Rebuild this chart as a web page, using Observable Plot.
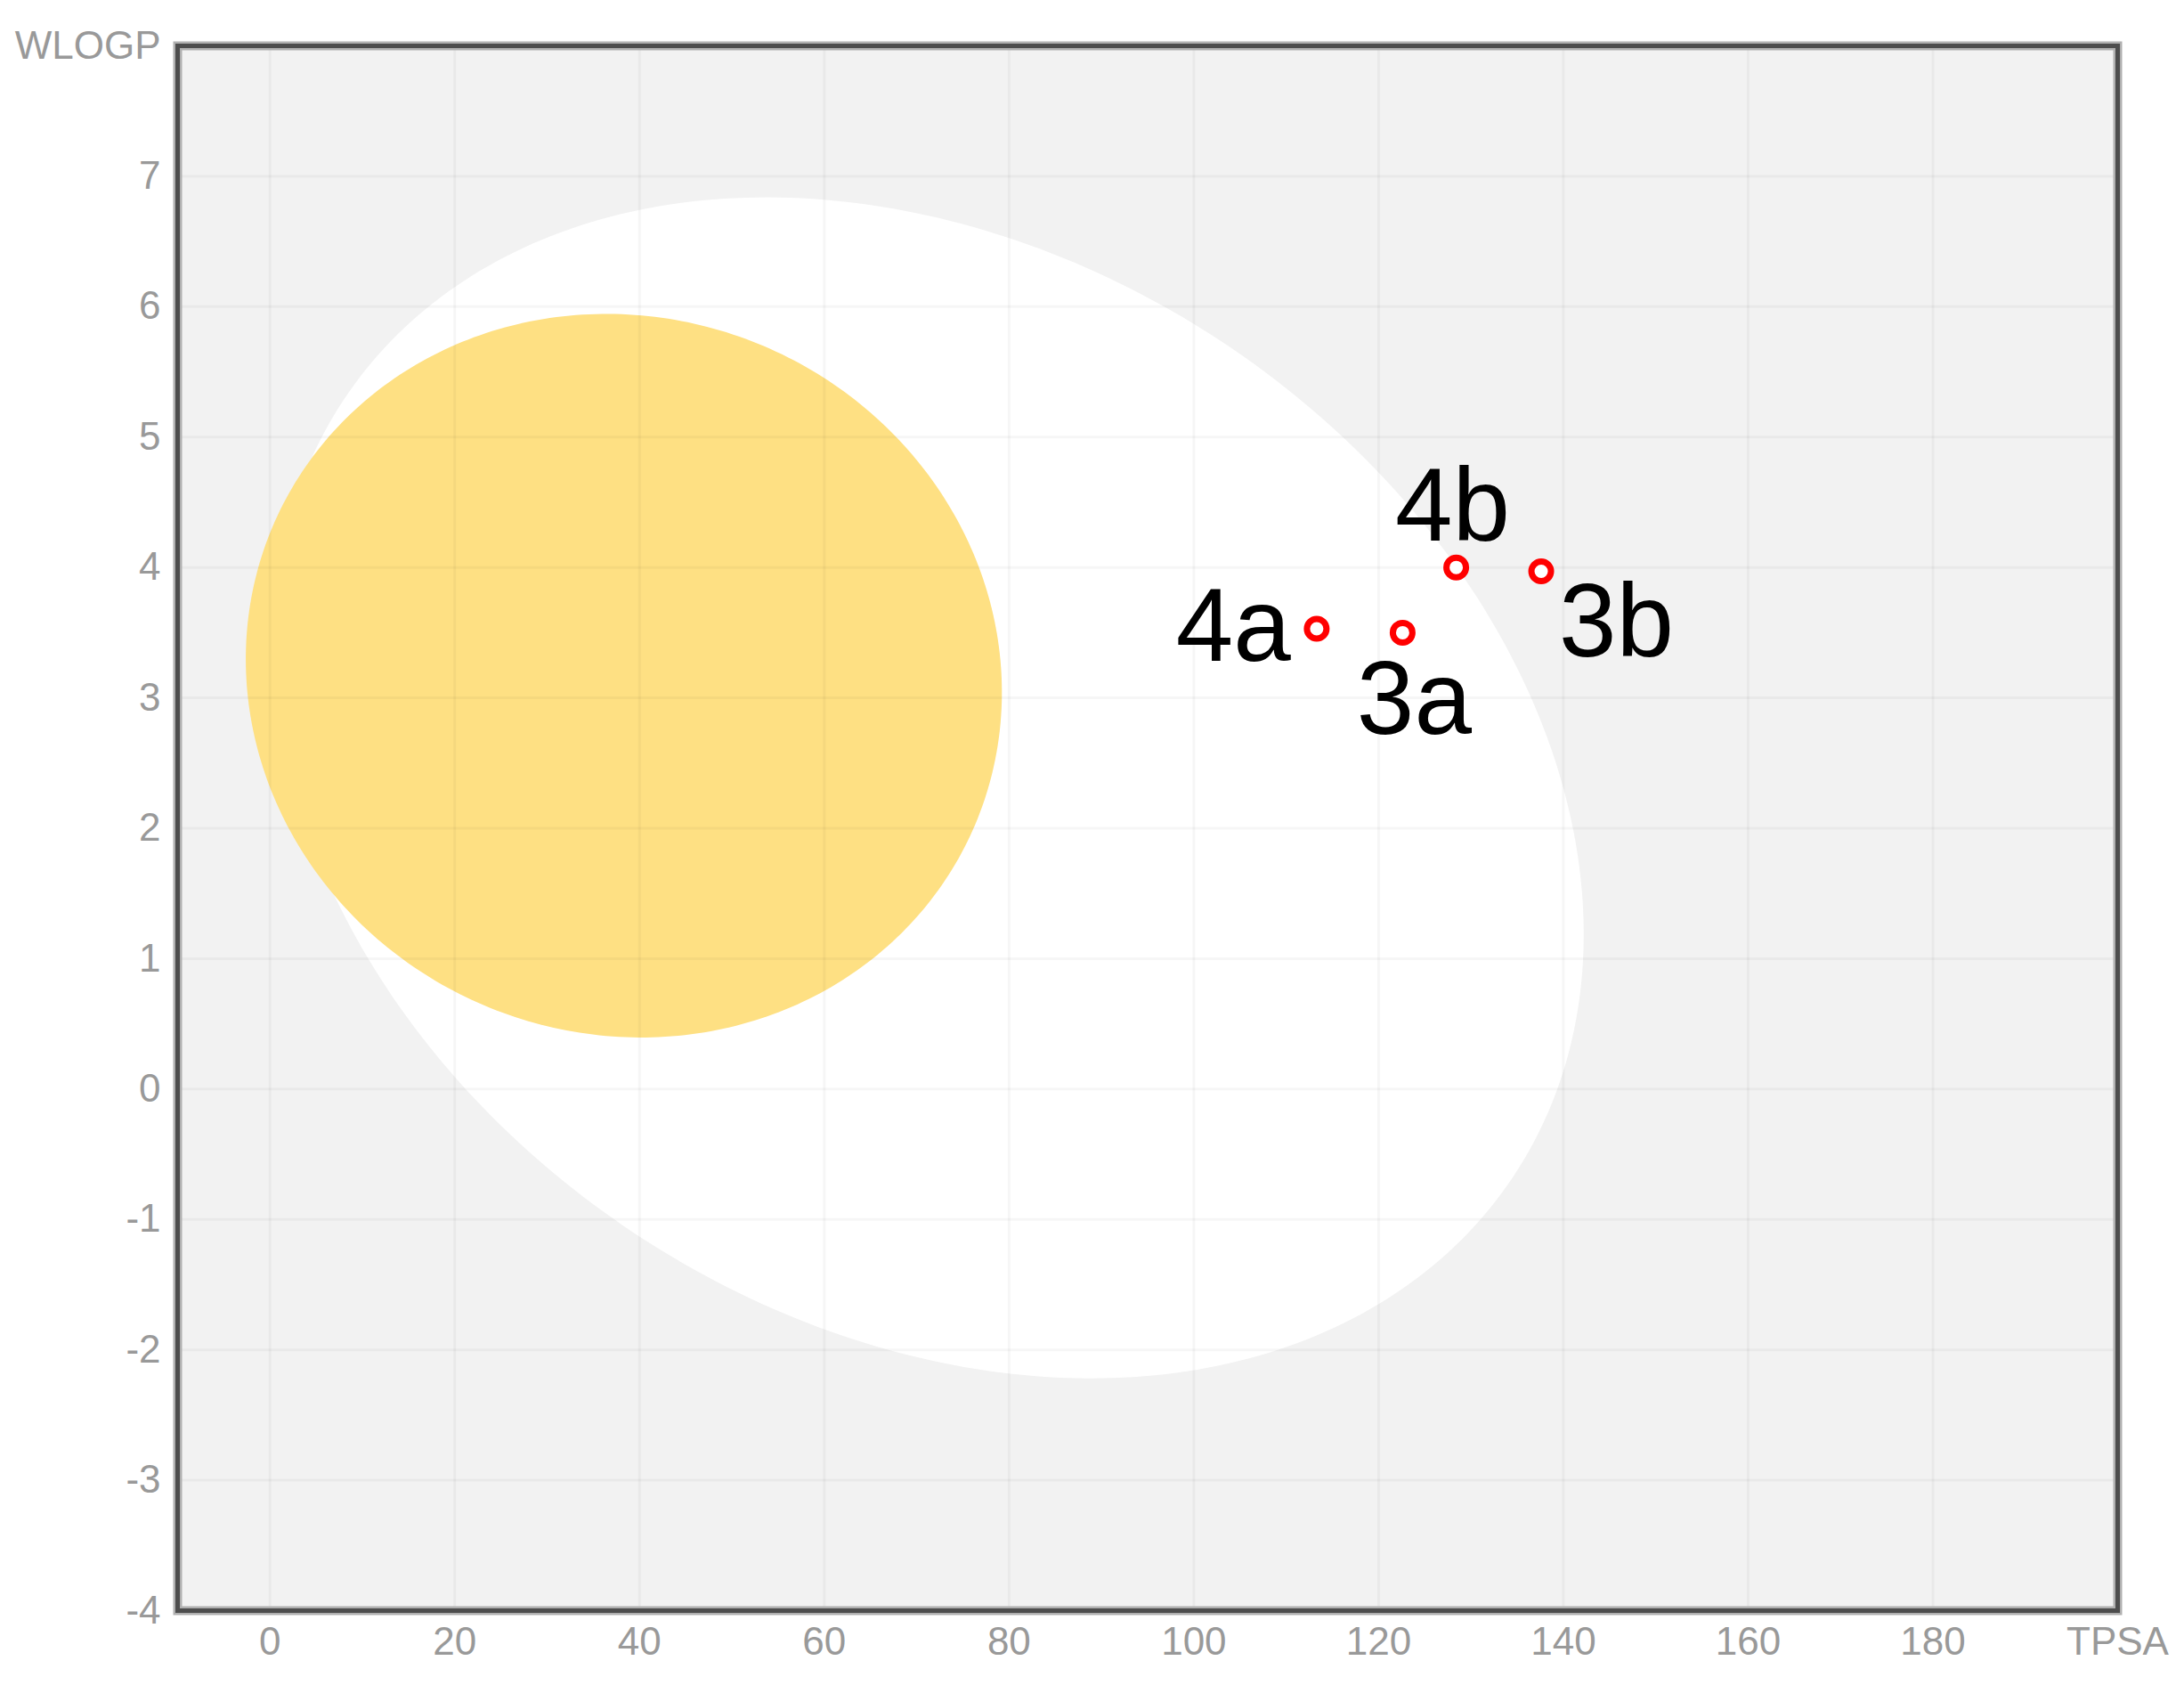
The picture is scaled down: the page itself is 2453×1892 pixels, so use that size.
<!DOCTYPE html>
<html>
<head>
<meta charset="utf-8">
<script src="https://cdn.jsdelivr.net/npm/d3@7"></script>
<script src="https://cdn.jsdelivr.net/npm/@observablehq/plot@0.6"></script>
<style>
  html, body { margin: 0; padding: 0; background: #ffffff; }
  svg { display: block; }
</style>
</head>
<body>
<div id="chart"></div>
<script>
// ---------------- data ----------------
const compounds = ["3a", "3b", "4a", "4b"];
const tpsa      = [122.6, 137.6, 113.3, 128.4];
const wlogp     = [3.50, 3.97, 3.53, 4.00];

const xTicks = [0, 20, 40, 60, 80, 100, 120, 140, 160, 180, 200];
const yTicks = [-4, -3, -2, -1, 0, 1, 2, 3, 4, 5, 6, 7, 8];
const xGrid  = [0, 20, 40, 60, 80, 100, 120, 140, 160, 180];
const yGrid  = [-3, -2, -1, 0, 1, 2, 3, 4, 5, 6, 7];
const xAxisTitle = "TPSA";
const yAxisTitle = "WLOGP";

// BOILED-Egg regions (white = HIA, yolk = BBB)
const regionNames        = ["HIA", "BBB"];
const regionCenterTPSA   = [71.3, 38.3];
const regionCenterWLOGP  = [2.31, 3.17];
const regionSemiMajor    = [75.98, 41.3];  // TPSA-equivalent units
const regionSemiMinor    = [57.77, 38.75]; // TPSA-equivalent units
const regionAngleDeg     = [-33.6, -23];

// ---------------- layout / style ----------------
const W = 2453, H = 1892;
const mL = 199, mR = 75, mT = 51, mB = 84;
const xDomain = [-10, 200], yDomain = [-4, 8];
const regionFill = {HIA: "#ffffff", BBB: "#fee083"};
const labelPlacement = {
  "4b": {textAnchor: "middle", dx: -4,  dy: -30},
  "3b": {textAnchor: "start",  dx: 20,  dy: 95},
  "4a": {textAnchor: "end",    dx: -29, dy: 36},
  "3a": {textAnchor: "middle", dx: 13,  dy: 114}
};
const FONT = "'Liberation Sans', Arial, Helvetica, sans-serif";

// screen aspect: TPSA units per WLOGP unit on screen
const pxX = (W - mL - mR) / (xDomain[1] - xDomain[0]);
const pxY = (H - mT - mB) / (yDomain[1] - yDomain[0]);
const k = pxY / pxX;

function outline(i) {
  const pts = [];
  const th = regionAngleDeg[i] * Math.PI / 180;
  const a = regionSemiMajor[i], b = regionSemiMinor[i];
  const n = 360;
  for (let j = 0; j < n; j++) {
    const t = j / n * 2 * Math.PI;
    const u = a * Math.cos(t), v = b * Math.sin(t);
    const X = u * Math.cos(th) - v * Math.sin(th);
    const Y = u * Math.sin(th) + v * Math.cos(th);
    pts.push({x: regionCenterTPSA[i] + X, y: regionCenterWLOGP[i] + Y / k, region: regionNames[i]});
  }
  return pts;
}

const points = compounds.map((c, i) => ({name: c, x: tpsa[i], y: wlogp[i]}));

const labelMarks = compounds.map(c => {
  const p = labelPlacement[c];
  return Plot.text(points.filter(d => d.name === c), {
    x: "x", y: "y", text: "name",
    textAnchor: p.textAnchor, lineAnchor: "bottom",
    dx: p.dx, dy: p.dy,
    fontSize: 116, fill: "#000000", fontFamily: FONT
  });
});

const chart = Plot.plot({
  width: W,
  height: H,
  marginLeft: mL, marginRight: mR, marginTop: mT, marginBottom: mB,
  style: {fontFamily: FONT, background: "#ffffff", overflow: "visible"},
  x: {domain: xDomain, axis: null},
  y: {domain: yDomain, axis: null},
  marks: [
    Plot.frame({fill: "#f2f2f2"}),
    ...regionNames.map((r, i) => Plot.line(outline(i), {
      x: "x", y: "y", curve: "linear-closed",
      fill: regionFill[r], stroke: "none"
    })),
    Plot.gridX(xGrid, {stroke: "#000", strokeOpacity: 0.035, strokeWidth: 3}),
    Plot.gridY(yGrid, {stroke: "#000", strokeOpacity: 0.035, strokeWidth: 3}),
    Plot.frame({stroke: "#b0b0b0", strokeWidth: 10}),
    Plot.frame({stroke: "#4d4d4d", strokeWidth: 5}),
    Plot.axisX(xTicks, {
      tickSize: 0, tickPadding: 18, fontSize: 44, color: "#999999",
      tickFormat: d => d === 200 ? xAxisTitle : String(d), label: null
    }),
    Plot.axisY(yTicks, {
      tickSize: 0, tickPadding: 19, fontSize: 44, color: "#999999",
      tickFormat: d => d === 8 ? yAxisTitle : String(d), label: null
    }),
    Plot.dot(points, {x: "x", y: "y", r: 11, stroke: "#ff0000", strokeWidth: 7, fill: "#ffffff"}),
    ...labelMarks
  ]
});

document.getElementById("chart").appendChild(chart);
</script>
</body>
</html>
